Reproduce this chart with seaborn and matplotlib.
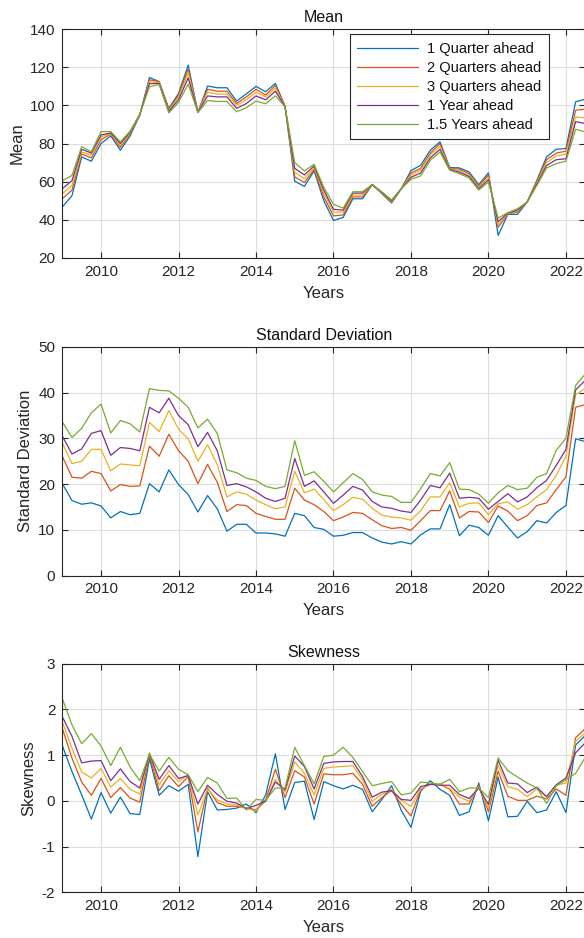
import numpy as np
import pandas as pd
import matplotlib
matplotlib.use("Agg")
import matplotlib.pyplot as plt
import seaborn as sns

# ---------------- data ----------------
years = np.arange(2009.0, 2022.51, 0.25)   # quarterly dates, 2009Q1 .. 2022Q3

horizons = ["1 Quarter ahead", "2 Quarters ahead", "3 Quarters ahead",
            "1 Year ahead", "1.5 Years ahead"]
colors = ["#0072BD", "#D95319", "#EDB120", "#7E2F8E", "#77AC30"]

mean_q1 = [46.7, 52.6, 73, 70.7, 80, 84, 76.5, 84, 95, 114.7, 112.5, 98.4,
           106.3, 121.2, 96.3, 110.2, 109.3, 109.3, 102.3, 106.1, 110, 107.2, 111.6, 99.6,
           60.2, 57.5, 65.6, 50, 39.6, 41.2, 51, 51, 58.4, 53.7, 48.8, 56.3,
           65.8, 68.6, 76.5, 80.9, 67.4, 67.2, 65.1, 58.4, 64.6, 31.8, 42.8, 42.8,
           49.3, 60.7, 73, 77, 77.4, 101.9, 103.3]
mean_q2 = [51, 55.5, 74.5, 72.5, 82, 85, 78, 85, 95, 113.5, 112.5, 97.8,
           105.3, 119, 96.5, 108.5, 107.5, 107.5, 101, 104.5, 108.5, 105.5, 110.5, 99.5,
           62.5, 59.5, 66.5, 52, 42, 42.5, 52, 52, 58.5, 54, 49.2, 56.3,
           64.5, 67, 75, 80, 67, 66.5, 64.2, 57.5, 63.5, 36, 43, 44,
           49.3, 60, 71.5, 75, 76, 97.5, 98]
mean_q3 = [53.7, 58, 75.5, 74, 83.5, 85.3, 79, 85.5, 95.2, 112.5, 112, 97.3,
           104.3, 117, 96.5, 107, 106, 106, 100, 103, 107, 104.5, 109, 99.5,
           65, 61.5, 67.5, 54, 44, 44, 53, 53, 58.5, 54.2, 49.6, 56.3,
           63.5, 66, 74, 78.5, 66.8, 65.8, 63.5, 57, 62.3, 37.5, 43.2, 44.5,
           49.3, 59.5, 70, 73.5, 74.5, 94, 93.5]
mean_y1 = [56.3, 60.5, 77, 75, 84.5, 85.6, 80, 86, 95.3, 111.5, 111.5, 96.8,
           103, 114.5, 96.4, 105, 104.5, 104.5, 98.5, 101, 105, 103, 107.5, 99.4,
           67, 63.5, 68.3, 55.5, 45.5, 45, 54, 54, 58.5, 54.4, 50, 56.3,
           62.3, 64.5, 72.5, 77, 66.4, 65, 62.7, 56.3, 61, 39, 43.5, 45,
           49.3, 58.8, 68.5, 71.5, 72, 91.5, 90.5]
mean_y15 = [60.4, 63.3, 78.4, 75.6, 86.3, 86.3, 80.9, 86.5, 95.3, 109.8, 111, 96.1,
            101.6, 111.2, 96.3, 102.6, 102.1, 102.1, 96.7, 98.8, 102.3, 100.9, 105.1, 99.3,
            70, 65.6, 69.1, 57, 48.1, 46.1, 54.7, 54.7, 58.4, 54.6, 50.4, 56.3,
            61.2, 63, 71.2, 75.6, 66, 64.2, 61.9, 55.6, 59.8, 40.9, 43.7, 45.8,
            49.3, 58, 67.2, 69.5, 70.7, 87.5, 86.1]

std_q1 = [20.1, 16.4, 15.6, 15.9, 15.2, 12.6, 14, 13.3, 13.6, 20.1, 18.3, 23.1,
          19.9, 17.7, 13.9, 17.5, 14.6, 9.7, 11.2, 11.2, 9.3, 9.3, 9.1, 8.6,
          13.6, 13.1, 10.5, 10.1, 8.6, 8.8, 9.4, 9.4, 8.2, 7.3, 6.9, 7.4,
          6.9, 8.9, 10.2, 10.2, 15.5, 8.7, 11, 10.5, 8.8, 13.1, 10.6, 8.2,
          9.6, 12, 11.5, 13.8, 15.3, 29.9, 29.3]
std_q2 = [26.1, 21.5, 21.3, 22.8, 22.3, 18.5, 19.9, 19.5, 19.6, 28.3, 26.1, 30.9,
          27.3, 25, 20.1, 24.3, 20.4, 14, 15.5, 15.3, 13.6, 12.9, 12.3, 12.3,
          19.1, 16.5, 15.5, 14, 12, 12.8, 13.8, 13.6, 12.2, 10.9, 10.3, 10.5,
          9.9, 12, 14.2, 14.2, 18.5, 12.6, 14, 13.9, 11.6, 15.2, 14.1, 12,
          13.1, 15.3, 15.9, 18.8, 21.6, 36.8, 37.4]
std_q3 = [29, 24.5, 25, 27.6, 27.6, 22.9, 24.4, 24.2, 24, 33.5, 31.5, 36.1,
          32, 29.9, 25, 28.6, 24.3, 17.2, 18.3, 17.8, 16.5, 15.5, 14.6, 15,
          22.8, 18.1, 18.9, 16.6, 14.2, 15.5, 17.1, 16.7, 14.7, 13.2, 12.8, 12.6,
          12.1, 14.2, 17.2, 17.2, 20.3, 15, 15.8, 15.9, 13.3, 15.7, 16.1, 14.5,
          15.5, 17.2, 18.8, 21.9, 26.1, 39.6, 40.9]
std_y1 = [30.5, 26.6, 27.7, 31.1, 31.7, 26.3, 28, 27.8, 27.3, 36.8, 35.6, 38.8,
          35, 33, 28.2, 31.3, 27.3, 19.7, 20.1, 19.4, 18.3, 16.9, 16.2, 16.9,
          25.6, 19.5, 20.7, 18.3, 15.8, 17.6, 19.5, 18.7, 16.2, 15, 14.7, 14.1,
          13.8, 16.5, 19.7, 19.2, 22.4, 16.9, 17.1, 16.9, 14.5, 16.2, 17.9, 16.1,
          17.2, 19.2, 20.8, 24.1, 27.6, 40.6, 42.7]
std_y15 = [33.6, 30.2, 32.2, 35.6, 37.5, 31.2, 33.9, 33.2, 31.4, 40.9, 40.5, 40.4,
           38.8, 36.8, 32.3, 34.2, 31.1, 23.1, 22.5, 21.3, 20.8, 19.5, 19, 19.5,
           29.5, 21.9, 22.7, 20.6, 18.3, 20.3, 22.3, 21, 18.3, 17.6, 17.3, 16,
           16, 19, 22.3, 21.8, 24.7, 18.9, 18.8, 17.8, 15.8, 18.1, 19.7, 18.8,
           19.1, 21.5, 22.3, 27.4, 30, 41.6, 44.1]

skew_q1 = [1.21, 0.64, 0.13, -0.4, 0.18, -0.27, 0.08, -0.28, -0.3, 0.92, 0.12, 0.33,
           0.21, 0.36, -1.22, 0.2, -0.2, -0.19, -0.16, -0.07, -0.26, 0.13, 1.03, -0.19,
           0.4, 0.43, -0.41, 0.42, 0.33, 0.26, 0.34, 0.25, -0.24, 0.03, 0.33, -0.21,
           -0.58, 0.21, 0.44, 0.25, 0.12, -0.32, -0.24, 0.39, -0.44, 0.52, -0.35, -0.34,
           -0.01, -0.26, -0.2, 0.2, -0.26, 1.22, 1.43]
skew_q2 = [1.59, 0.93, 0.41, 0.12, 0.49, 0.07, 0.29, 0.06, -0.03, 1.0, 0.22, 0.55,
           0.31, 0.53, -0.68, 0.28, -0.04, -0.12, -0.12, -0.16, -0.2, 0.02, 0.69, 0.07,
           0.66, 0.52, -0.07, 0.59, 0.57, 0.57, 0.6, 0.36, -0.12, 0.07, 0.23, -0.08,
           -0.33, 0.25, 0.36, 0.36, 0.25, -0.07, -0.07, 0.34, -0.24, 0.65, 0.1, 0.01,
           0.01, 0.1, 0.04, 0.26, 0.12, 1.38, 1.58]
skew_q3 = [1.73, 1.15, 0.63, 0.5, 0.71, 0.3, 0.49, 0.25, 0.15, 1.05, 0.35, 0.66,
           0.42, 0.58, -0.31, 0.26, 0.02, -0.07, -0.09, -0.17, -0.22, 0.0, 0.47, 0.19,
           0.85, 0.6, 0.13, 0.71, 0.74, 0.75, 0.77, 0.46, -0.01, 0.14, 0.25, 0.01,
           -0.12, 0.26, 0.36, 0.36, 0.27, 0.08, -0.01, 0.3, -0.17, 0.78, 0.31, 0.25,
           0.09, 0.26, 0.09, 0.34, 0.39, 1.3, 1.49]
skew_y1 = [1.84, 1.41, 0.83, 0.87, 0.88, 0.44, 0.7, 0.42, 0.28, 1.03, 0.47, 0.77,
           0.49, 0.55, -0.07, 0.34, 0.14, -0.01, -0.05, -0.17, -0.1, -0.01, 0.41, 0.24,
           0.98, 0.75, 0.26, 0.82, 0.85, 0.86, 0.86, 0.53, 0.08, 0.19, 0.22, 0.03,
           0.01, 0.31, 0.36, 0.34, 0.34, 0.14, 0.05, 0.28, -0.08, 0.89, 0.39, 0.37,
           0.18, 0.3, 0.09, 0.35, 0.5, 1.05, 1.27]
skew_y15 = [2.24, 1.66, 1.25, 1.47, 1.2, 0.77, 1.17, 0.74, 0.44, 1.02, 0.65, 0.95,
            0.69, 0.57, 0.2, 0.51, 0.39, 0.05, 0.06, -0.2, 0.03, 0.01, 0.28, 0.28,
            1.17, 0.77, 0.37, 0.97, 1.0, 1.17, 0.95, 0.64, 0.33, 0.38, 0.42, 0.13,
            0.17, 0.41, 0.39, 0.36, 0.47, 0.2, 0.28, 0.28, 0.07, 0.94, 0.66, 0.52,
            0.39, 0.28, -0.06, 0.33, 0.46, 0.6, 0.95]

panels = [
    ("Mean", "Mean", [mean_q1, mean_q2, mean_q3, mean_y1, mean_y15], (20, 140), np.arange(20, 141, 20)),
    ("Standard Deviation", "Standard Deviation", [std_q1, std_q2, std_q3, std_y1, std_y15], (0, 50), np.arange(0, 51, 10)),
    ("Skewness", "Skewness", [skew_q1, skew_q2, skew_q3, skew_y1, skew_y15], (-2, 3), np.arange(-2, 4, 1)),
]
xticks = [2010, 2012, 2014, 2016, 2018, 2020, 2022]

# ---------------- style ----------------
sns.set_theme(style="whitegrid")
plt.rcParams["font.family"] = ["Liberation Sans", "DejaVu Sans"]
plt.rcParams["axes.unicode_minus"] = False
plt.rcParams["axes.edgecolor"] = "#262626"
plt.rcParams["axes.linewidth"] = 0.8

W, H = 584, 938
fig = plt.figure(figsize=(W / 100, H / 100), dpi=100)
fig.patch.set_facecolor("white")

left_px, width_px = 62.3, 523.0
tops = [29.3, 347.0, 663.7]
height_px = 228.5

for i, (title, ylabel, series, ylim, yticks) in enumerate(panels):
    ax = fig.add_axes([left_px / W, 1 - (tops[i] + height_px) / H, width_px / W, height_px / H])
    df = pd.concat([pd.DataFrame({"Year": years, "value": s, "Horizon": h})
                    for s, h in zip(series, horizons)], ignore_index=True)
    sns.lineplot(data=df, x="Year", y="value", hue="Horizon", hue_order=horizons,
                 palette=colors, linewidth=0.9, ax=ax, legend=False)
    ax.set_xlim(2009, 2022.5)
    ax.set_ylim(*ylim)
    ax.set_xticks(xticks)
    ax.set_yticks(yticks)
    ax.grid(True, color="#dedede", linewidth=0.8)
    ax.set_facecolor("white")
    for sp in ax.spines.values():
        sp.set_visible(True)
        sp.set_color("#262626")
        sp.set_linewidth(0.8)
    ax.tick_params(axis="both", which="both", direction="in", length=4, width=0.8,
                   top=True, right=True, bottom=True, left=True,
                   labelsize=11, colors="#262626", pad=5)
    ax.set_title(title, fontsize=11.5, color="#111111", pad=5)
    ax.set_xlabel("Years", fontsize=12, color="#262626", labelpad=5)
    ax.set_ylabel(ylabel, fontsize=12, color="#262626", labelpad=4)
    if i == 0:
        leg = ax.legend(handles=ax.lines[:5], labels=horizons, loc="upper right",
                        bbox_to_anchor=(0.930, 0.978), borderaxespad=0,
                        fontsize=10.5, frameon=True, fancybox=False,
                        handlelength=4.2, handletextpad=0.6, labelspacing=0.35,
                        borderpad=0.5)
        leg.get_frame().set_edgecolor("#262626")
        leg.get_frame().set_linewidth(0.8)
        leg.get_frame().set_alpha(1)
        for t in leg.get_texts():
            t.set_color("#111111")

fig.savefig("out.png", dpi=100, facecolor="white")
